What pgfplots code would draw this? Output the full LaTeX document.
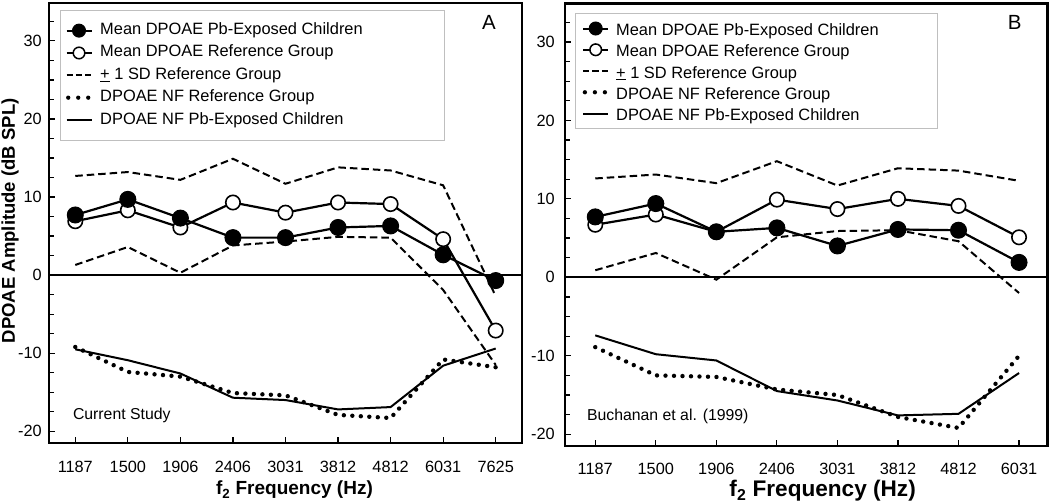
\documentclass[border=0pt]{standalone}
\usepackage{fontspec}
\setmainfont{Liberation Sans}
\usepackage{pgfplots}
\pgfplotsset{compat=1.18}

\pgfplotsset{
  panel/.style={
    scale only axis,
    anchor=south west,
    tick align=inside,
    xtick pos=left, ytick pos=left,
    axis line style={line width=2.6pt, black},
    major tick style={line width=1.2pt, black},
    minor tick style={line width=1.2pt, black},
    major tick length=6pt, minor tick length=5pt,
    ytick={-20,-10,0,10,20,30},
    yticklabels={-20,-10,0,10,20,30},
    minor ytick={-17.5,-15,-12.5,-7.5,-5,-2.5,2.5,5,7.5,12.5,15,17.5,22.5,25,27.5,32.5},
    tick label style={font=\fontsize{16.3}{19}\selectfont},
    xticklabel style={anchor=base, inner sep=0pt},
    yticklabel style={anchor=east, inner sep=0pt},
    ymin=-21.5,
    legend cell align=left,
    legend style={anchor=north west, draw=black!25, line width=1pt, fill=white,
      font=\fontsize{16.4}{19}\selectfont},
  },
  limg pb/.style={legend image code/.code={
      \draw[black,line width=2pt] (0pt,0pt)--(25pt,0pt);
      \fill[black] (12.5pt,0pt) circle (6.5pt);}},
  limg ref/.style={legend image code/.code={
      \draw[black,line width=2pt] (0pt,0pt)--(25pt,0pt);
      \draw[black,fill=white,line width=1.5pt] (12.5pt,0pt) circle (5.8pt);}},
  limg sd/.style={legend image code/.code={
      \draw[black,line width=1.9pt,dash pattern=on 6.3pt off 3pt] (0pt,0pt)--(25pt,0pt);}},
  limg nfref/.style={legend image code/.code={
      \draw[black,line width=4.3pt,line cap=round,dash pattern=on 0pt off 10pt] (1.7pt,0pt)--(22pt,0pt);}},
  limg nfpb/.style={legend image code/.code={
      \draw[black,line width=2pt] (0pt,0pt)--(25pt,0pt);}},
  sdline/.style={black, line width=2pt, dash pattern=on 7.5pt off 4pt, forget plot},
  nfrefline/.style={black, line width=4.4pt, line cap=round, dash pattern=on 0pt off 8.5pt, forget plot},
  nfpbline/.style={black, line width=2pt, forget plot},
  refline/.style={black, line width=2.2pt, mark=*, mark size=7.2pt, mark options={solid, fill=white, line width=1.6pt}, forget plot},
  pbline/.style={black, line width=2.2pt, mark=*, mark size=8pt, mark options={solid, fill=black, line width=1pt}, forget plot},
}

\begin{document}
\begin{tikzpicture}
\path[use as bounding box] (0,0) rectangle (1050pt,503pt);

% ---------------- Panel A ----------------
\begin{axis}[panel,
  at={(49pt,60pt)}, width=473pt, height=440pt,
  xmin=-0.5, xmax=8.5, ymax=34.85,
  xtick={0,1,2,3,4,5,6,7,8},
  xticklabels={1187,1500,1906,2406,3031,3812,4812,6031,7625},
  xticklabel style={yshift=-29.5pt},
  yticklabel style={xshift=-7pt},
  xlabel={f\textsubscript{2} Frequency (Hz)},
  xlabel style={at={(axis description cs:0.519,-0.118)}, anchor=base, font=\bfseries\fontsize{19}{22}\selectfont},
  ylabel={DPOAE Amplitude (dB SPL)},
  ylabel style={at={(axis description cs:-0.0719,0.505)}, anchor=base, font=\bfseries\fontsize{18.5}{22}\selectfont},
  legend style={at={(0.0233,0.984)}, inner xsep=5pt, inner ysep=12.6pt, row sep=7.35pt, column sep=7.7pt,
    nodes={inner sep=0pt, text height=11.5pt, text depth=3.5pt}},
]
\addlegendimage{limg pb}\addlegendentry{\makebox[339pt][l]{Mean DPOAE Pb-Exposed Children}}
\addlegendimage{limg ref}\addlegendentry{Mean DPOAE Reference Group}
\addlegendimage{limg sd}\addlegendentry{\underline{+} 1 SD Reference Group}
\addlegendimage{limg nfref}\addlegendentry{DPOAE NF Reference Group}
\addlegendimage{limg nfpb}\addlegendentry{DPOAE NF Pb-Exposed Children}

\addplot[black, line width=1.9pt, forget plot] coordinates {(-0.5,0) (8.5,0)};
% +/- 1 SD reference group
\addplot[sdline] coordinates {(0,12.7) (1,13.2) (2,12.2) (3,14.9) (4,11.7) (5,13.8) (6,13.4) (7,11.5) (8,-2.7)};
\addplot[sdline] coordinates {(0,1.3) (1,3.6) (2,0.3) (3,3.8) (4,4.3) (5,4.9) (6,4.8) (7,-1.9) (8,-11.5)};
% noise floors
\addplot[nfrefline] coordinates {(0,-9.2) (1,-12.4) (2,-13.0) (3,-15.1) (4,-15.4) (5,-17.9) (6,-18.3) (7,-10.8) (8,-11.8)};
\addplot[nfpbline] coordinates {(0,-9.5) (1,-10.9) (2,-12.6) (3,-15.7) (4,-16.0) (5,-17.2) (6,-16.9) (7,-11.6) (8,-9.4)};
% means
\addplot[refline] coordinates {(0,6.9) (1,8.3) (2,6.1) (3,9.3) (4,8.0) (5,9.3) (6,9.1) (7,4.6) (8,-7.1)};
\addplot[pbline] coordinates {(0,7.7) (1,9.7) (2,7.3) (3,4.8) (4,4.8) (5,6.1) (6,6.3) (7,2.6) (8,-0.7)};

\node[anchor=base west, font=\fontsize{15.8}{18}\selectfont] at (axis cs:-0.11,-18.44) {Current Study};
\node[font=\fontsize{20.5}{24}\selectfont] at (axis cs:7.87,32.3) {A};
\end{axis}

% ---------------- Panel B ----------------
\begin{axis}[panel,
  at={(565pt,57pt)}, width=482.5pt, height=442.5pt,
  xmin=-0.5, xmax=7.47, ymax=34.9,
  xtick={0,1,2,3,4,5,6,7},
  xticklabels={1187,1500,1906,2406,3031,3812,4812,6031},
  xticklabel style={yshift=-29pt},
  yticklabel style={xshift=-10pt},
  xlabel={f\textsubscript{2} Frequency (Hz)},
  xlabel style={at={(axis description cs:0.534,-0.1146)}, anchor=base, font=\bfseries\fontsize{22.6}{26}\selectfont},
  legend style={at={(0.0207,0.9785)}, inner xsep=6.7pt, inner ysep=7.5pt, row sep=6.25pt, column sep=7pt,
    nodes={inner sep=0pt, text height=14.7pt, text depth=0.3pt}},
]
\addlegendimage{limg pb}\addlegendentry{\makebox[315pt][l]{Mean DPOAE Pb-Exposed Children}}
\addlegendimage{limg ref}\addlegendentry{Mean DPOAE Reference Group}
\addlegendimage{limg sd}\addlegendentry{\underline{+} 1 SD Reference Group}
\addlegendimage{limg nfref}\addlegendentry{DPOAE NF Reference Group}
\addlegendimage{limg nfpb}\addlegendentry{DPOAE NF Pb-Exposed Children}

\addplot[black, line width=1.9pt, forget plot] coordinates {(-0.5,0) (7.47,0)};
\addplot[sdline] coordinates {(0,12.6) (1,13.1) (2,12.0) (3,14.8) (4,11.7) (5,13.9) (6,13.6) (7,12.3)};
\addplot[sdline] coordinates {(0,0.9) (1,3.1) (2,-0.3) (3,5.1) (4,5.9) (5,6.0) (6,4.6) (7,-2.0)};
\addplot[nfrefline] coordinates {(0,-8.9) (1,-12.5) (2,-12.7) (3,-14.3) (4,-15.0) (5,-17.8) (6,-19.2) (7,-10.0)};
\addplot[nfpbline] coordinates {(0,-7.4) (1,-9.8) (2,-10.6) (3,-14.5) (4,-15.7) (5,-17.6) (6,-17.4) (7,-12.2)};
\addplot[refline] coordinates {(0,6.7) (1,8.0) (2,5.8) (3,9.9) (4,8.7) (5,10.0) (6,9.1) (7,5.1)};
\addplot[pbline] coordinates {(0,7.7) (1,9.4) (2,5.8) (3,6.3) (4,4.0) (5,6.1) (6,6.0) (7,1.9)};

\node[anchor=base west, font=\fontsize{15.8}{18}\selectfont] at (axis cs:-0.193,-18.2) {Buchanan et al. (1999)};
\node[font=\fontsize{20.5}{24}\selectfont] at (axis cs:6.93,32.5) {B};
\end{axis}
\end{tikzpicture}
\end{document}
